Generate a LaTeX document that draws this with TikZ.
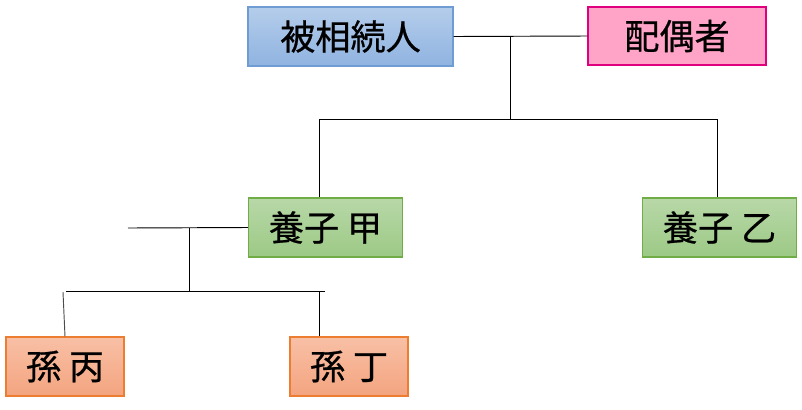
\documentclass[tikz,border=0pt]{standalone}
\usepackage{fontspec}
\setmainfont[FakeBold=0.6]{Noto Sans CJK JP}
\usetikzlibrary{positioning, calc}
\definecolor{heirtop}{HTML}{B5CDEB}
\definecolor{heirbot}{HTML}{8FB3E0}
\definecolor{heirline}{HTML}{6F9DD3}
\definecolor{spousefill}{HTML}{FFA3C7}
\definecolor{spouseline}{HTML}{E0007F}
\definecolor{kidtop}{HTML}{B8D8A8}
\definecolor{kidbot}{HTML}{9CC985}
\definecolor{kidline}{HTML}{70AD47}
\definecolor{grandtop}{HTML}{F8C0A6}
\definecolor{grandbot}{HTML}{F4A47F}
\definecolor{grandline}{HTML}{ED7D31}

\begin{document}
\begin{tikzpicture}[
    x=0.03cm, y=-0.03cm,
    every node/.style={font=\fontsize{30}{32}\selectfont, inner sep=0pt, line width=0.9pt},
    heir/.style={draw=heirline, top color=heirtop, bottom color=heirbot, minimum width=6.15cm, minimum height=1.77cm},
    spouse/.style={draw=spouseline, fill=spousefill, minimum width=5.34cm, minimum height=1.74cm},
    kid/.style={draw=kidline, top color=kidtop, bottom color=kidbot, minimum width=4.62cm, minimum height=1.77cm},
    grand/.style={draw=grandline, top color=grandtop, bottom color=grandbot, minimum width=3.54cm, minimum height=1.77cm},
    tie/.style={black, line width=0.8pt},
]
\useasboundingbox (0,0) rectangle (802,409);

% ---------------- first generation
\node[heir] (heir) at (350.5, 36.5) {被相続人};
\node[spouse] (spouse) at (677, 36) {配偶者};

% ---------------- adopted children
\node[kid] (kidA) at (325.5, 227.5) {養子 甲};
\node[kid] (kidB) at (719.5, 227.5) {養子 乙};

% ---------------- grandchildren
\node[grand] (grandC) at (65, 366.5) {孫 丙};
\node[grand] (grandD) at (349, 366.5) {孫 丁};

% ---------------- lines
\coordinate (pair) at (510, 37);
\coordinate (bar) at (510, 119);
\coordinate (barL) at (319, 119);
\coordinate (barR) at (717, 119);
\draw[tie] (heir.east) -- (spouse.west);
\draw[tie] (pair) -- (bar);
\draw[tie] (barL) -- (barR);
\draw[tie] (barL) -- (barL |- kidA.north);
\draw[tie] (barR) -- (barR |- kidB.north);

\coordinate (spare) at (128, 228);
\coordinate (drop) at (189, 228);
\coordinate (low) at (189, 291);
\coordinate (lowL) at (66, 291);
\coordinate (lowR) at (325, 291);
\coordinate (lowC) at (63, 292);
\coordinate (lowD) at (319, 291);
\draw[tie] (spare) -- (kidA.west);
\draw[tie] (drop) -- (low);
\draw[tie] (lowL) -- (lowR);
\draw[tie, black!70] (lowC) -- (grandC.north);
\draw[tie] (lowD) -- (lowD |- grandD.north);
\end{tikzpicture}
\end{document}
